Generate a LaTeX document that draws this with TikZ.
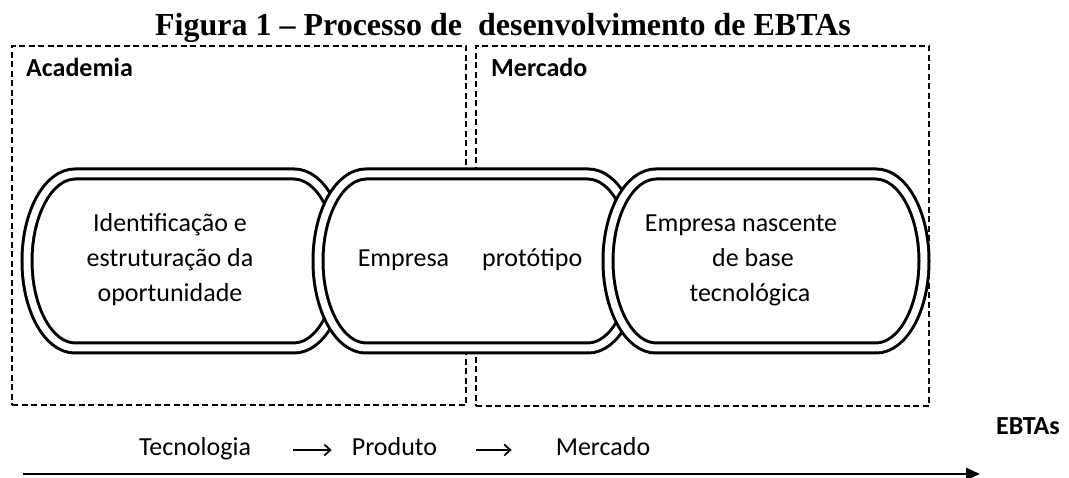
\documentclass[tikz,border=0pt]{standalone}
\usepackage{fontspec}
\setmainfont{Carlito}
\newfontfamily\titlefont{Liberation Serif}
\usetikzlibrary{arrows.meta}
\newcommand{\stagepath}[2]{(#1+48,303) -- (#2-48,303) arc[start angle=90,end angle=-90,x radius=48,y radius=87] -- (#1+48,129) arc[start angle=270,end angle=90,x radius=48,y radius=87] -- cycle}
\begin{document}
\begin{tikzpicture}[x=1pt,y=1pt,
  region/.style={draw, line width=2.2pt, dash pattern=on 6pt off 3.5pt, inner sep=0pt},
  stage/.style={draw, fill=white, line width=3pt, double=white, double distance=7pt},
  body/.style={font=\fontsize{26}{31}\selectfont, inner sep=0pt, anchor=base},
  lbl/.style={font=\fontsize{26}{31}\selectfont\bfseries, inner sep=0pt, anchor=base west},
  txtarrow/.style={line width=1.8pt, -{Straight Barb[length=6pt,width=11pt]}},
  axisarrow/.style={line width=2.8pt, -{Triangle[length=14pt,width=12pt]}}]
\useasboundingbox (0,0) rectangle (1069,477);
% title
\node[font=\titlefont\fontsize{32}{38}\selectfont\bfseries, inner sep=0pt, anchor=base] (title) at (503,441) {Figura 1 – Processo de \ desenvolvimento de EBTAs};
% regions
\node[region, minimum width=454pt, minimum height=359pt] (academia) at (239,251.5) {};
\node[region, minimum width=453pt, minimum height=360pt] (mercado) at (702.5,251) {};
\node[lbl] (acadlbl) at (26,400) {Academia};
\node[lbl] (mercLbl) at (491,400) {Mercado};
% stages
\draw[stage] \stagepath{27}{342};
\draw[stage] \stagepath{318}{636};
\draw[stage] \stagepath{608}{924};
\node[body] (s1a) at (170,245) {Identificação e};
\node[body] (s1b) at (170,210) {estruturação da};
\node[body] (s1c) at (170,175) {oportunidade};
\node[body] (s2) at (470,210) {Empresa\hspace{33pt}protótipo};
\node[body] (s3a) at (741,245) {Empresa nascente};
\node[body] (s3b) at (753,210) {de base};
\node[body] (s3c) at (750,175) {tecnológica};
% bottom line
\node[body] (tec) at (195,22) {Tecnologia};
\node[body] (prod) at (394.5,22) {Produto};
\node[body] (merc) at (603,22) {Mercado};
\draw[txtarrow] ([xshift=42pt,yshift=5pt]tec.base east) -- ([xshift=-20pt,yshift=5pt]prod.base west);
\draw[txtarrow] ([xshift=39pt,yshift=5pt]prod.base east) -- ([xshift=-44pt,yshift=5pt]merc.base west);
\node[font=\fontsize{26}{31}\selectfont\bfseries, inner sep=0pt, anchor=base] (ebtas) at (1028,42) {EBTAs};
\coordinate (axisstart) at (23,3);
\coordinate (axisend) at (980,3);
\draw[axisarrow] (axisstart) -- (axisend);
\end{tikzpicture}
\end{document}
